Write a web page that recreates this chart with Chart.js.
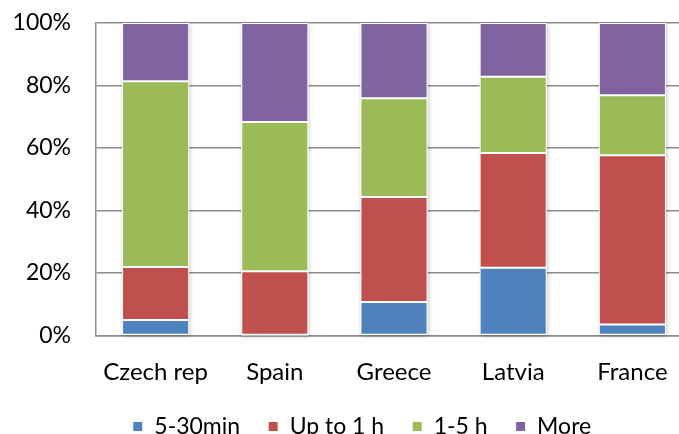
<!DOCTYPE html>
<html>
<head>
<meta charset="utf-8">
<script src="https://cdn.jsdelivr.net/npm/chart.js@4"></script>
<style>
  html, body { margin: 0; padding: 0; background: #fff; overflow: hidden; }
  #wrap { width: 692px; height: 448px; position: relative; }
</style>
</head>
<body>
<div id="wrap"><canvas id="c"></canvas></div>
<script>
// Share of respondents by time spent, per country (percent of total)
const countries = ["Czech rep", "Spain", "Greece", "Latvia", "France"];
const min5to30  = [5.0, 0.0, 10.7, 21.7, 3.5];
const upTo1h    = [16.9, 20.6, 33.6, 36.7, 54.2];
const h1to5     = [59.5, 47.7, 31.6, 24.4, 19.2];
const more      = [18.6, 31.7, 24.1, 17.2, 23.1];
const yTicks    = [0, 20, 40, 60, 80, 100];

const font = "Lato, 'DejaVu Sans', sans-serif";

function series(label, data, color) {
  return {
    label, data,
    backgroundColor: color,
    borderColor: "#ffffff",
    borderWidth: 1,
    borderSkipped: false,
    barPercentage: 0.563,
    categoryPercentage: 1.0
  };
}

// Nudge the legend row to the right of the canvas centre
const legendShift = {
  id: "legendShift",
  afterLayout(chart) {
    const l = chart.legend;
    if (l) { l.left += 16; l.right += 16; }
  }
};

// Soft drop shadow behind each full stacked column
const columnShadow = {
  id: "columnShadow",
  beforeDatasetsDraw(chart) {
    const ctx = chart.ctx;
    const metas = chart.data.datasets.map((_, i) => chart.getDatasetMeta(i));
    ctx.save();
    ctx.shadowColor = "rgba(0,0,0,0.22)";
    ctx.shadowBlur = 4;
    ctx.shadowOffsetX = 1;
    ctx.shadowOffsetY = 1;
    ctx.fillStyle = "#ffffff";
    chart.data.labels.forEach((_, j) => {
      const els = metas.map(m => m.data[j]);
      const top = Math.min(...els.map(e => Math.min(e.y, e.base)));
      const bottom = Math.max(...els.map(e => Math.max(e.y, e.base)));
      const w = els[0].width;
      ctx.fillRect(els[0].x - w / 2, top, w, bottom - top);
    });
    ctx.restore();
  }
};

new Chart(document.getElementById("c"), {
  type: "bar",
  data: {
    labels: countries,
    datasets: [
      series("5-30min", min5to30, "#4F81BD"),
      series("Up to 1 h", upTo1h, "#C0504D"),
      series("1-5 h", h1to5, "#9BBB59"),
      series("More", more, "#8064A2")
    ]
  },
  plugins: [legendShift, columnShadow],
  options: {
    responsive: true,
    maintainAspectRatio: false,
    animation: false,
    layout: { padding: { top: 23, right: 0, left: 0, bottom: 0 } },
    plugins: {
      tooltip: { enabled: false },
      legend: {
        position: "bottom",
        labels: {
          font: { family: font, size: 23 },
          color: "#000",
          boxWidth: 10,
          boxHeight: 10,
          padding: 28
        }
      }
    },
    scales: {
      x: {
        stacked: true,
        grid: { display: false, drawTicks: false },
        border: { display: true, color: "#8c8c8c", width: 1.5 },
        ticks: { font: { family: font, size: 24 }, color: "#000", padding: 22 },
        afterFit: s => { s.height = 51.5; }
      },
      y: {
        stacked: true,
        min: 0,
        max: 100,
        afterBuildTicks: s => { s.ticks = yTicks.map(v => ({ value: v })); },
        grid: { color: "#8c8c8c", lineWidth: 1.5, drawTicks: false },
        border: { display: true, color: "#8c8c8c", width: 1.5 },
        ticks: {
          font: { family: font, size: 23 },
          color: "#000",
          padding: 25,
          callback: v => v + "%"
        },
        afterFit: s => { s.width = 96; s.paddingTop = 0; s.paddingBottom = 0; }
      }
    }
  }
});
</script>
</body>
</html>
